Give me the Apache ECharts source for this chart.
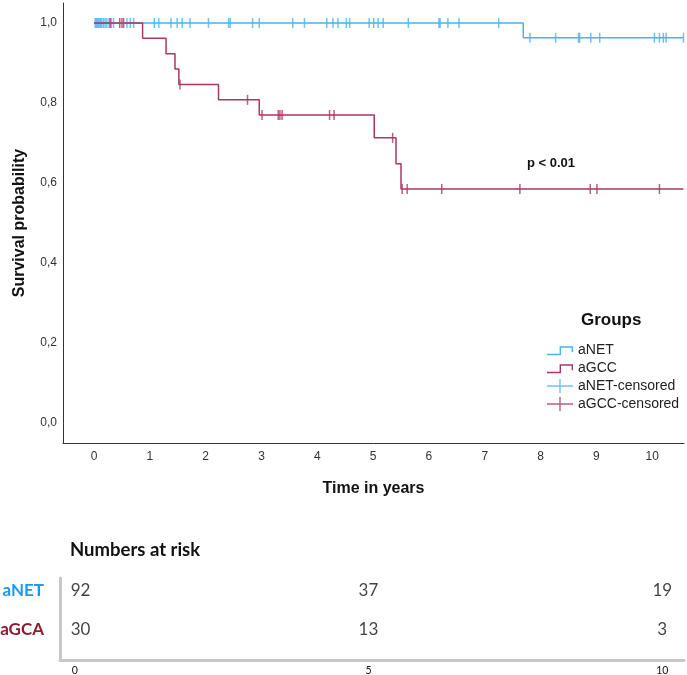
<!DOCTYPE html>
<html>
<head>
<meta charset="utf-8">
<script src="https://cdn.jsdelivr.net/npm/echarts@6/dist/echarts.min.js"></script>
<style>html,body{margin:0;padding:0;background:#fff}#c{width:687px;height:675px}</style>
</head>
<body>
<div id="c"></div>
<script>
// Kaplan-Meier step curves
const netTimes = [0, 7.69, 10.56];
const netSurv  = [1, 0.963, 0.963];
const gccTimes = [0, 0.87, 1.29, 1.45, 1.52, 2.23, 2.96, 5.02, 5.41, 5.50, 10.56];
const gccSurv  = [1, 0.962, 0.923, 0.885, 0.846, 0.808, 0.770, 0.713, 0.648, 0.585, 0.585];
// censored observations
const netCensTimes = [0.02,0.04,0.06,0.08,0.10,0.12,0.14,0.17,0.20,0.23,0.27,0.31,0.35,0.59,0.65,0.71,1.08,1.16,1.38,1.49,1.58,1.72,2.05,2.41,2.44,2.84,2.96,3.56,3.77,4.17,4.28,4.37,4.52,4.58,4.93,5.01,5.09,5.18,5.63,6.18,6.20,6.34,6.54,7.25,
                      7.81,8.27,8.68,8.70,8.90,9.06,10.04,10.13,10.20,10.25,10.56];
const netCensSurv  = [1,1,1,1,1,1,1,1,1,1,1,1,1,1,1,1,1,1,1,1,1,1,1,1,1,1,1,1,1,1,1,1,1,1,1,1,1,1,1,1,1,1,1,1,
                      0.963,0.963,0.963,0.963,0.963,0.963,0.963,0.963,0.963,0.963,0.963];
const gccCensTimes = [0.29,0.46,0.50,0.53,1.54,2.75,3.01,3.30,3.33,3.37,4.22,4.30,5.35,5.52,5.61,6.23,7.63,8.89,9.01,10.13];
const gccCensSurv  = [1,1,1,1,0.846,0.808,0.770,0.770,0.770,0.770,0.770,0.770,0.713,0.585,0.585,0.585,0.585,0.585,0.585,0.585];
// axis ticks
const xTicks = [0,1,2,3,4,5,6,7,8,9,10];
const yTicks = [0,0.2,0.4,0.6,0.8,1.0];
// numbers at risk
const riskTimes = [0,5,10];
const riskGroups = ['aNET','aGCA'];
const riskNET = [92,37,19];
const riskGCA = [30,13,3];

const BLUE = '#47B3F5';
const RED = '#AC3563';
const zip = (a,b) => a.map((v,i)=>[v,b[i]]);

const stepIcon = 'path://M0,0M26,14M0,10.8h12.6v-7.5h13.4v6h-1.4v-4.6h-10.6v7.5h-14z';
const plusIcon = 'path://M0,6.3h26v1.4h-26z M12.3,0h1.4v14h-1.4z';

const riskLabel = {show:true, position:'inside', formatter:p=>p.value[2], fontSize:17, color:'#111', fontFamily:'Lato'};
const riskData = (vals, row) => riskTimes.map((t,i)=>{
  const item = {value:[t,row,vals[i]]};
  if (i === 0) item.label = {align:'left', offset:[-4,0]};
  return item;
});

const chart = echarts.init(document.getElementById('c'), null, {renderer:'canvas'});
chart.setOption({
  animation:false,
  textStyle:{fontFamily:'Liberation Sans, Arial, sans-serif'},
  grid:[
    {left:63, right:3, top:3, height:440, outerBoundsMode:'none', containLabel:false},
    {left:60, right:3, top:578, height:82, outerBoundsMode:'none', containLabel:false}
  ],
  xAxis:[
    {gridIndex:0, type:'value', min:-0.556, max:10.57,
     name:'Time in years', nameLocation:'middle', nameGap:38,
     nameTextStyle:{fontSize:16, fontWeight:'bold', color:'#111'},
     axisLine:{show:true, onZero:false, lineStyle:{color:'#333', width:1}},
     axisTick:{show:false}, splitLine:{show:false},
     axisLabel:{customValues:xTicks, fontSize:12, color:'#333', margin:8}},
    {gridIndex:1, type:'value', min:-0.25, max:10.37,
     axisLine:{show:true, onZero:false, lineStyle:{color:'#c8c8c8', width:3}},
     axisTick:{show:false}, splitLine:{show:false},
     axisLabel:{customValues:riskTimes, fontSize:10.5, color:'#111', margin:5, fontFamily:'Lato'}}
  ],
  yAxis:[
    {gridIndex:0, type:'value', min:-0.05, max:1.05,
     name:'Survival probability', nameLocation:'middle', nameGap:35, nameRotate:90,
     nameTextStyle:{fontSize:16, fontWeight:'bold', color:'#111'},
     axisLine:{show:true, onZero:false, lineStyle:{color:'#333', width:1}},
     axisTick:{show:false}, splitLine:{show:false},
     axisLabel:{customValues:yTicks, fontSize:12, color:'#333', margin:6,
       formatter:v=>v.toFixed(1).replace('.',',')}},
    {gridIndex:1, type:'value', inverse:true, min:0.667, max:2.769,
     axisLine:{show:true, onZero:false, lineStyle:{color:'#c8c8c8', width:3}},
     axisTick:{show:false}, splitLine:{show:false},
     axisLabel:{customValues:[1,2], margin:16,
       formatter:v=>'{g'+Math.round(v)+'|'+riskGroups[Math.round(v)-1]+'}',
       rich:{g1:{color:'#1A9AF2', fontSize:17, fontWeight:'bold', fontFamily:'Lato'},
             g2:{color:'#8E1A33', fontSize:17, fontWeight:'bold', fontFamily:'Lato'}}}}
  ],
  legend:{
    left:542, top:338, orient:'vertical', itemWidth:26, itemHeight:14, itemGap:4,
    textStyle:{fontSize:14, color:'#222'},
    data:[
      {name:'aNET', icon:stepIcon},
      {name:'aGCC', icon:stepIcon},
      {name:'aNET-censored', icon:plusIcon},
      {name:'aGCC-censored', icon:plusIcon}
    ]
  },
  title:[
    {text:'Groups', left:576, top:307, textStyle:{fontSize:17, fontWeight:'bold', color:'#111'}},
    {text:'p < 0.01', left:522, top:152, textStyle:{fontSize:13, fontWeight:'bold', color:'#111'}},
    {text:'Numbers at risk', left:65, top:536, textStyle:{fontSize:18.5, fontWeight:'bold', color:'#111', fontFamily:'Lato'}}
  ],
  series:[
    {name:'aNET', type:'line', step:'end', xAxisIndex:0, yAxisIndex:0, data:zip(netTimes,netSurv),
     showSymbol:false, symbol:'none', color:BLUE, lineStyle:{color:BLUE, width:1.5}},
    {name:'aGCC', type:'line', step:'end', xAxisIndex:0, yAxisIndex:0, data:zip(gccTimes,gccSurv),
     showSymbol:false, symbol:'none', color:RED, lineStyle:{color:RED, width:1.5}},
    {name:'aNET-censored', type:'scatter', xAxisIndex:0, yAxisIndex:0, data:zip(netCensTimes,netCensSurv),
     symbol:'rect', symbolSize:[1.5,10], color:BLUE, itemStyle:{color:BLUE}},
    {name:'aGCC-censored', type:'scatter', xAxisIndex:0, yAxisIndex:0, data:zip(gccCensTimes,gccCensSurv),
     symbol:'rect', symbolSize:[1.5,10], color:RED, itemStyle:{color:RED}},
    {name:'risk-aNET', type:'scatter', xAxisIndex:1, yAxisIndex:1, symbolSize:0,
     data:riskData(riskNET, 1), label:riskLabel},
    {name:'risk-aGCA', type:'scatter', xAxisIndex:1, yAxisIndex:1, symbolSize:0,
     data:riskData(riskGCA, 2), label:riskLabel}
  ]
});
</script>
</body>
</html>
